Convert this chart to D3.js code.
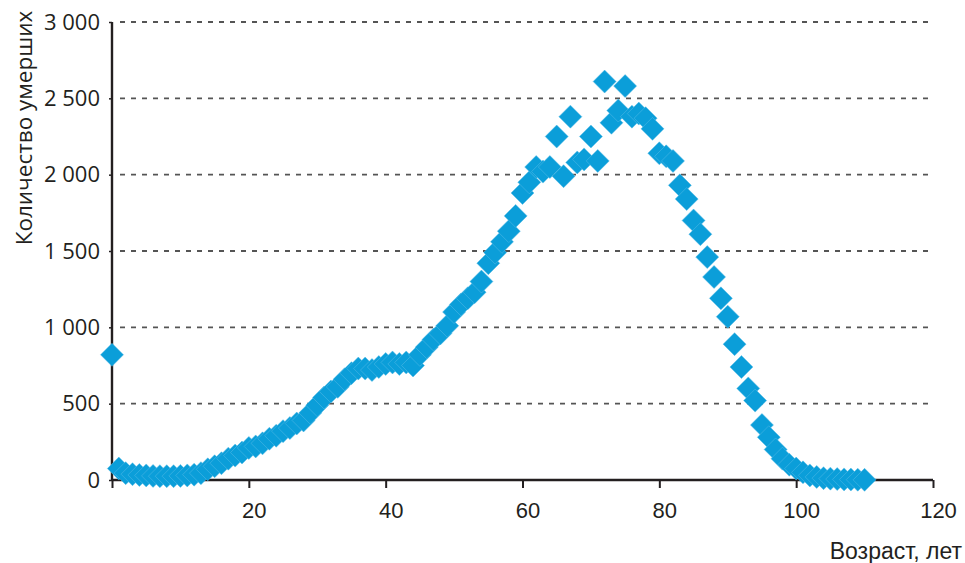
<!DOCTYPE html>
<html lang="ru">
<head>
  <meta charset="UTF-8">
  <title>Количество умерших по возрасту</title>
  <script src="https://d3js.org/d3.v7.min.js"></script>
  <style>
    body { margin: 0; background: #fff; }
    .grid line { stroke: #555; stroke-width: 1.8; stroke-dasharray: 5 6; }
    .ylab { font-family: "Open Sans", sans-serif; font-size: 22px; fill: #231f20; }
    .xlab { font-family: "Liberation Sans", Arial, sans-serif; font-size: 22px; fill: #231f20; }
    .title-y { font-family: "Open Sans", sans-serif; font-size: 22.5px; fill: #231f20; }
    .title-x { font-family: "Liberation Sans", Arial, sans-serif; font-size: 23px; fill: #231f20; }
  </style>
</head>
<body>
  <svg width="965" height="563"></svg>

  <script>
    // ages 0..110, deaths per single year of age
    const ages = d3.range(0, 111);
    const deaths = [
      820, 75, 45, 38, 33, 30, 27, 25, 25, 25,        // 0-9
      27, 30, 35, 45, 70, 90, 110, 140, 160, 180,     // 10-19
      210, 220, 240, 270, 290, 320, 340, 370, 390, 440, // 20-29
      490, 540, 580, 610, 660, 700, 730, 730, 720, 740, // 30-39
      760, 770, 760, 770, 750, 820, 870, 920, 960, 1010, // 40-49
      1100, 1150, 1190, 1230, 1300, 1420, 1490, 1560, 1630, 1730, // 50-59
      1880, 1950, 2050, 2020, 2050, 2250, 1990, 2380, 2080, 2100, // 60-69
      2250, 2090, 2610, 2340, 2420, 2580, 2380, 2400, 2370, 2300, // 70-79
      2140, 2120, 2090, 1930, 1840, 1700, 1610, 1460, 1330, 1190, // 80-89
      1070, 890, 740, 600, 520, 360, 280, 200, 140, 100,  // 90-99
      75, 50, 30, 20, 12, 9, 6, 4, 3, 2, 1              // 100-110
    ];
    const xTicks = [20, 40, 60, 80, 100, 120];
    const yTicks = [0, 500, 1000, 1500, 2000, 2500, 3000];
    const xTitle = "Возраст, лет";
    const yTitle = "Количество умерших";

    const m = { left: 112, right: 933, top: 22, bottom: 480 };
    const svg = d3.select("svg");

    const x = d3.scaleLinear().domain([0, 120]).range([m.left, m.right]);
    const y = d3.scaleLinear().domain([0, 3000]).range([m.bottom, m.top]);

    // dashed gridlines
    svg.append("g").attr("class", "grid")
      .selectAll("line")
      .data(yTicks.filter(d => d > 0))
      .join("line")
      .attr("x1", m.left + 8).attr("x2", m.right)
      .attr("y1", d => y(d)).attr("y2", d => y(d));

    // y axis
    const yAxis = svg.append("g")
      .attr("transform", `translate(${m.left},0)`)
      .call(d3.axisLeft(y).tickValues(yTicks).tickSize(3).tickPadding(9)
        .tickFormat(d => d3.format(",")(d).replace(/,/g, " ")));
    yAxis.select(".domain").attr("stroke", "#231f20").attr("stroke-width", 2.4)
      .attr("d", `M0,${m.top}V${m.bottom}`);
    yAxis.selectAll(".tick line").attr("stroke", "#231f20").attr("stroke-width", 1.5);
    yAxis.selectAll(".tick text").attr("class", "ylab").attr("fill", null);
    yAxis.attr("font-family", null).attr("font-size", null);

    // x axis
    const xAxis = svg.append("g")
      .attr("transform", `translate(0,${m.bottom})`)
      .call(d3.axisBottom(x).tickValues([0].concat(xTicks)).tickSize(8).tickPadding(14)
        .tickFormat(d => d === 0 ? "" : d));
    xAxis.select(".domain").attr("stroke", "#231f20").attr("stroke-width", 2.4)
      .attr("d", `M${m.left},0H${m.right}`);
    xAxis.selectAll(".tick line").attr("stroke", "#231f20").attr("stroke-width", 2);
    xAxis.selectAll(".tick text").attr("class", "xlab").attr("fill", null).attr("dx", 5);
    xAxis.attr("font-family", null).attr("font-size", null);

    // diamond markers
    const r = 11.5;
    svg.append("g")
      .selectAll("path")
      .data(ages.map((a, i) => ({ age: a, v: deaths[i] })))
      .join("path")
      .attr("d", `M0,${-r}L${r},0L0,${r}L${-r},0Z`)
      .attr("transform", d => `translate(${x(d.age)},${y(d.v)})`)
      .attr("fill", "#0b9ed9")
      .attr("stroke", "#5bbde6")
      .attr("stroke-width", 0.5)
      .attr("stroke-linejoin", "round");

    // axis titles
    svg.append("text").attr("class", "title-y")
      .attr("transform", `translate(32,128) rotate(-90)`)
      .attr("text-anchor", "middle")
      .text(yTitle);

    svg.append("text").attr("class", "title-x")
      .attr("x", 962).attr("y", 559)
      .attr("text-anchor", "end")
      .text(xTitle);
  </script>
</body>
</html>
